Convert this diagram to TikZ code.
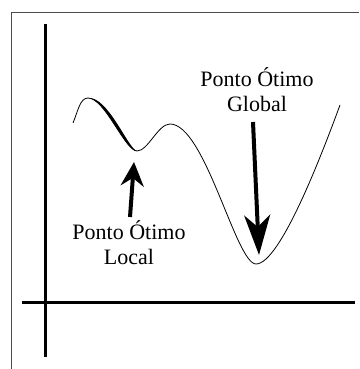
\documentclass[tikz,border=0pt]{standalone}
\usepackage{fontspec}
\setmainfont{Liberation Serif}
\usetikzlibrary{arrows.meta,positioning}

\begin{document}
\begin{tikzpicture}[x=1pt,y=1pt,
  axis/.style={line width=3pt},
  curve/.style={line width=0.8pt},
  pointer/.style={line width=4pt},
  lbl/.style={align=center,inner sep=0pt,font=\fontsize{22}{25.5}\selectfont}]
\useasboundingbox (0,0) rectangle (359,369);
\draw[line width=0.8pt,black!70] (359,357) -- (11,357) -- (11,0);
% axes
\coordinate (ytop) at (45,345); \coordinate (ybot) at (45,12);
\coordinate (xleft) at (22,66); \coordinate (xright) at (355,66);
\draw[axis] (ytop) -- (ybot);
\draw[axis] (xleft) -- (xright);
% curve
\coordinate (start) at (73,246); \coordinate (peak) at (88,271);
\coordinate (lmin) at (137,218); \coordinate (lmax) at (170,245);
\coordinate (gmin) at (256,105); \coordinate (end) at (340,264);
\draw[curve] (start) .. controls (78,258) and (80,271) .. (peak)
  .. controls (105,271) and (125,218) .. (lmin)
  .. controls (148,218) and (158,245) .. (lmax)
  .. controls (205,245) and (236,105) .. (gmin)
  .. controls (280,105) and (322,215) .. (end);
\fill (peak) .. controls (105,271) and (125,218) .. (lmin)
  .. controls (128.1,220) and (108.1,273) .. (peak);
% labels
\node[lbl,anchor=north] (lbllocal) at (129,149) {Ponto Ótimo\\Local};
\node[lbl,anchor=north] (lblglobal) at (257,302) {Ponto Ótimo\\Global};
\coordinate (ltip) at (134,207); \coordinate (gtip) at (259,114);
\draw[pointer,-{Stealth[length=24pt,width=23pt,inset=8pt]}]
  ([xshift=1pt,yshift=3pt]lbllocal.north) -- (ltip);
\draw[pointer,-{Stealth[length=40pt,width=26pt,inset=12pt]}]
  ([xshift=-4pt,yshift=-10pt]lblglobal.south) -- (gtip);
\end{tikzpicture}
\end{document}
